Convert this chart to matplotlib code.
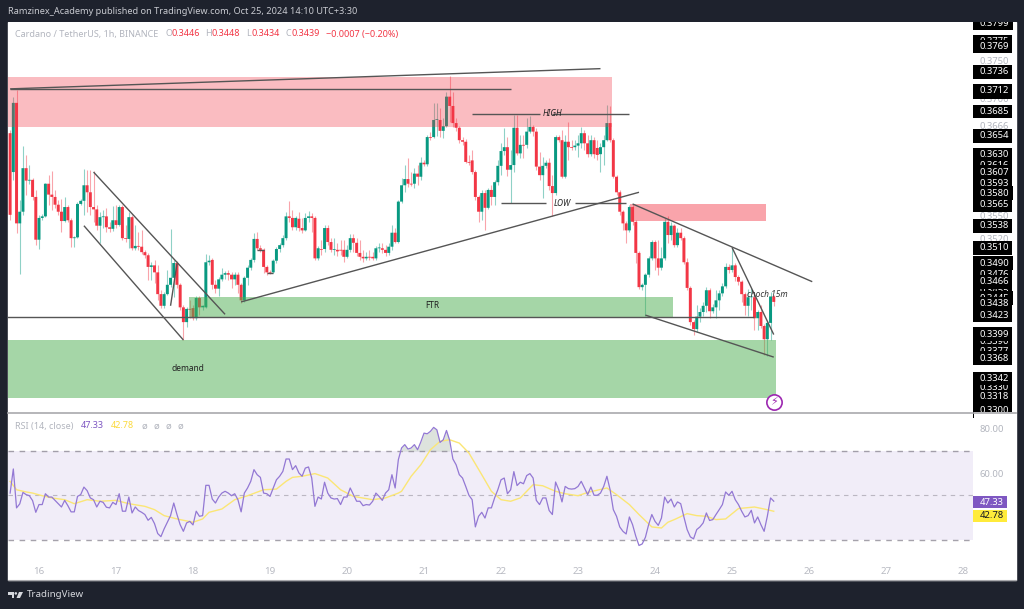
import numpy as np
import matplotlib
matplotlib.use("Agg")
import matplotlib.pyplot as plt
from matplotlib.patches import Rectangle, Polygon, Circle
from matplotlib.path import Path

# candles, in units of 0.0001 USDT
opens = [3656,3606,3695,3540,3555,3611,3595,3596,3574,3519,
         3547,3549,3591,3577,3574,3564,3555,3543,3561,3544,
         3521,3522,3565,3569,3589,3580,3561,3558,3537,3548,
         3549,3535,3533,3544,3538,3561,3521,3520,3548,3508,
         3511,3510,3503,3499,3484,3486,3477,3449,3434,3449,
         3461,3470,3489,3461,3432,3413,3430,3431,3418,3444,
         3432,3432,3490,3493,3461,3456,3468,3474,3476,3474,
         3468,3474,3461,3441,3470,3483,3493,3520,3508,3506,
         3484,3477,3477,3492,3507,3512,3521,3549,3547,3535,
         3546,3534,3531,3547,3549,3547,3495,3507,3507,3534,
         3516,3506,3506,3506,3506,3497,3506,3521,3515,3502,
         3497,3495,3497,3497,3495,3508,3508,3506,3502,3510,
         3528,3516,3568,3589,3597,3591,3591,3604,3600,3618,
         3616,3651,3651,3673,3673,3659,3665,3703,3691,3669,
         3663,3647,3645,3619,3621,3606,3574,3555,3579,3560,
         3583,3574,3593,3614,3633,3638,3609,3615,3663,3630,
         3641,3641,3658,3664,3658,3613,3602,3614,3618,3588,
         3579,3651,3647,3600,3645,3638,3638,3640,3643,3656,
         3643,3629,3647,3637,3629,3638,3647,3669,3647,3600,
         3580,3555,3540,3531,3561,3542,3502,3458,3461,3474,
         3495,3516,3495,3483,3495,3542,3525,3537,3512,3528,
         3521,3490,3457,3413,3404,3420,3426,3434,3454,3427,
         3432,3441,3450,3459,3484,3480,3486,3471,3465,3449,
         3434,3445,3445,3418,3426,3408,3391,3412,3446]
closes = [3551,3695,3540,3555,3611,3595,3596,3574,3519,3547,
          3549,3591,3577,3574,3564,3555,3543,3561,3544,3521,
          3522,3565,3569,3589,3580,3561,3558,3537,3548,3549,
          3535,3533,3544,3538,3561,3521,3520,3548,3508,3511,
          3510,3503,3499,3484,3486,3477,3449,3434,3449,3461,
          3470,3489,3461,3432,3413,3430,3429,3418,3444,3432,
          3434,3490,3492,3461,3456,3468,3474,3476,3474,3468,
          3474,3461,3441,3470,3483,3493,3520,3508,3506,3484,
          3477,3476,3492,3507,3512,3521,3549,3547,3535,3547,
          3534,3531,3547,3549,3547,3495,3508,3506,3534,3516,
          3506,3507,3504,3505,3497,3506,3521,3515,3502,3497,
          3495,3497,3496,3495,3508,3509,3506,3502,3510,3528,
          3516,3568,3589,3597,3591,3590,3604,3600,3618,3616,
          3651,3650,3673,3674,3659,3665,3703,3691,3669,3663,
          3647,3645,3619,3618,3606,3574,3555,3579,3560,3583,
          3574,3593,3614,3633,3638,3609,3615,3663,3630,3641,
          3640,3658,3664,3658,3613,3602,3614,3618,3588,3579,
          3651,3647,3600,3645,3638,3637,3640,3643,3656,3643,
          3629,3647,3629,3628,3638,3647,3669,3647,3600,3580,
          3555,3540,3531,3561,3542,3502,3458,3461,3474,3495,
          3516,3495,3483,3495,3542,3525,3537,3512,3528,3521,
          3490,3457,3413,3404,3420,3426,3434,3454,3427,3432,
          3441,3450,3459,3484,3480,3486,3471,3465,3449,3434,
          3445,3446,3418,3426,3408,3391,3412,3446,3439]
highs = [3660,3703,3712,3570,3640,3628,3615,3598,3583,3551,
         3552,3592,3602,3607,3583,3570,3571,3574,3564,3547,
         3524,3568,3571,3610,3609,3609,3607,3564,3555,3557,
         3560,3542,3562,3564,3564,3564,3538,3555,3551,3538,
         3529,3531,3506,3502,3490,3493,3486,3454,3452,3480,
         3533,3493,3492,3463,3435,3432,3441,3435,3447,3447,
         3435,3501,3499,3495,3467,3471,3483,3479,3480,3477,
         3477,3477,3463,3472,3486,3495,3528,3529,3512,3508,
         3486,3480,3494,3510,3515,3525,3555,3569,3557,3549,
         3555,3547,3553,3556,3553,3549,3511,3519,3538,3538,
         3521,3521,3515,3519,3519,3512,3526,3526,3521,3519,
         3506,3503,3506,3503,3511,3515,3515,3512,3515,3538,
         3534,3570,3598,3615,3624,3606,3611,3615,3625,3621,
         3654,3657,3695,3695,3688,3675,3709,3730,3709,3675,
         3665,3651,3649,3628,3634,3609,3577,3583,3583,3585,
         3589,3596,3621,3643,3663,3651,3634,3679,3679,3654,
         3654,3675,3678,3667,3663,3632,3625,3621,3624,3602,
         3654,3654,3660,3654,3670,3647,3647,3654,3664,3660,
         3654,3654,3651,3647,3643,3654,3692,3691,3650,3602,
         3583,3557,3543,3564,3565,3544,3504,3463,3476,3498,
         3519,3519,3519,3510,3547,3549,3542,3539,3534,3534,
         3524,3495,3459,3416,3435,3431,3439,3458,3457,3436,
         3454,3454,3463,3489,3488,3508,3489,3474,3467,3452,
         3456,3457,3448,3429,3435,3411,3414,3452,3448]
lows = [3544,3596,3528,3475,3551,3577,3591,3570,3512,3507,
        3544,3548,3564,3557,3560,3551,3529,3542,3542,3510,
        3510,3521,3564,3551,3555,3551,3542,3531,3515,3534,
        3529,3529,3530,3534,3537,3519,3516,3508,3506,3506,
        3506,3501,3495,3467,3467,3463,3441,3431,3431,3448,
        3458,3445,3457,3429,3390,3407,3418,3416,3416,3422,
        3429,3431,3486,3456,3450,3447,3466,3468,3467,3457,
        3461,3450,3438,3439,3461,3480,3490,3506,3503,3476,
        3474,3475,3476,3489,3503,3510,3519,3542,3531,3531,
        3530,3528,3530,3542,3529,3493,3493,3499,3503,3512,
        3503,3499,3498,3499,3490,3495,3503,3503,3498,3493,
        3490,3493,3493,3493,3493,3503,3502,3498,3499,3506,
        3515,3515,3566,3580,3587,3588,3585,3589,3596,3614,
        3614,3647,3650,3652,3651,3650,3664,3670,3664,3659,
        3643,3641,3618,3615,3604,3570,3542,3544,3531,3558,
        3564,3564,3589,3602,3628,3601,3566,3606,3628,3624,
        3624,3637,3656,3652,3609,3596,3573,3611,3583,3549,
        3577,3645,3598,3598,3621,3634,3634,3625,3637,3634,
        3625,3627,3624,3621,3606,3615,3646,3645,3598,3577,
        3551,3531,3515,3529,3538,3489,3456,3454,3421,3471,
        3493,3480,3474,3480,3493,3515,3519,3510,3510,3519,
        3488,3454,3409,3396,3400,3413,3421,3426,3418,3425,
        3418,3429,3447,3457,3476,3477,3466,3461,3439,3422,
        3421,3429,3403,3403,3406,3371,3369,3390,3434]

rsi = [51.0,61.9,44.3,46.1,51.3,50.3,49.8,47.6,42.3,45.8,
       45.8,50.7,49.2,49.2,47.7,46.2,44.7,47.7,45.3,42.5,
       42.5,49.5,50.3,53.7,52.1,48.8,48.0,44.7,47.3,46.8,
       44.6,44.3,46.8,45.8,50.7,42.8,42.8,49.2,42.0,44.7,
       43.1,42.3,41.3,38.7,40.0,37.2,32.7,31.3,34.8,37.8,
       40.8,46.5,41.3,36.7,33.7,37.5,38.2,36.6,42.8,40.5,
       40.8,54.5,54.5,48.3,46.5,49.2,51.0,51.8,51.0,49.8,
       50.7,48.0,42.5,51.0,53.3,56.3,61.6,59.3,58.1,51.0,
       50.7,49.5,53.3,57.0,58.6,60.8,66.4,66.4,61.6,63.4,
       60.1,58.6,62.3,62.8,57.8,45.0,49.2,48.3,55.9,51.0,
       48.8,48.3,48.5,45.8,49.2,49.2,53.3,50.3,47.3,47.3,
       45.3,45.8,45.6,47.3,51.0,49.5,47.7,51.0,52.5,59.3,
       53.3,66.1,71.4,72.9,70.9,71.4,72.9,70.6,74.1,78.1,
       77.8,78.9,80.7,79.6,73.9,75.1,79.3,74.8,66.4,63.8,
       59.3,57.8,54.0,50.0,48.0,35.7,40.5,42.3,39.7,44.3,
       44.3,48.8,52.5,57.0,57.8,50.7,52.5,60.7,54.4,55.9,
       55.2,58.9,59.8,57.8,47.7,45.8,48.8,48.8,43.1,41.3,
       56.0,52.5,47.0,54.0,53.0,52.8,53.0,54.0,56.3,53.3,
       50.3,53.7,50.0,50.0,51.0,54.0,58.6,52.5,43.5,40.5,
       35.7,33.7,32.5,40.2,36.7,31.5,27.3,28.0,31.0,36.7,
       41.3,38.2,36.4,39.7,49.2,46.5,48.3,44.7,47.0,46.2,
       40.2,34.5,31.2,30.3,34.5,35.7,37.5,42.0,38.6,39.0,
       41.3,43.5,45.8,51.5,50.0,51.8,48.0,45.8,42.8,40.2,
       40.8,43.2,37.5,40.2,36.7,33.7,40.5,48.8,47.33]

# rsi moving average, read at these candles
ma_candles = [0,2,5,7,10,13,17,20,24,28,33,37,42,45,48,52,57,60,62,66,70,74,79,83,86,88,91,95,99,103,
              107,113,117,121,122,125,128,131,134,137,140,143,147,150,153,156,159,163,166,170,173,177,180,186,189,193,196,
              200,203,205,207,211,214,217,220,223,227,232,235,238]
ma_values = [56.3,52.5,51.5,51.0,49.8,48.8,48.0,46.2,48.0,47.3,47.7,46.2,45.0,43.5,40.8,39.3,37.8,39.3,42.3,43.8,48.0,49.8,52.5,52.8,56.3,58.1,58.6,59.8,57.8,52.5,
             49.5,48.0,48.8,51.0,51.8,58.6,63.8,70.6,74.4,75.1,73.6,69.1,59.3,51.8,48.0,47.3,48.8,54.8,54.3,51.8,50.7,49.8,51.3,53.3,50.3,45.8,41.3,
             35.7,35.2,37.8,39.0,41.7,40.8,40.5,39.0,39.3,44.0,44.7,43.8,42.78]

day_labels = ["16","17","18","19","20","21","22","23","24","25","26","27","28"]
day_hours = [0,24,48,72,96,120,144,168,192,216,240,264,288]

price_black = [0.3775,0.3710,0.3616,0.3490,0.3476,0.3455,0.3445,0.3390,0.3377,0.3330,
               0.3799,0.3769,0.3736,0.3712,0.3685,0.3654,0.3630,0.3607,0.3593,0.3580,0.3565,
               0.3538,0.3510,0.3466,0.3438,0.3423,0.3399,0.3368,0.3342,0.3318,0.3300]
price_grey = [0.3750,0.3700,0.3666,0.3550,0.3520]

# drawings as (hour, price, hour, price)
trend_lines = [(-9.0,0.3713,175.0,0.3739),
               (-9.0,0.3713,147.2,0.3713),
               (135.0,0.3681,156.0,0.3681),(160.0,0.3681,184.0,0.3681),
               (144.0,0.3566,158.0,0.3566),(167.0,0.3566,183.0,0.3566),
               (63.0,0.3439,187.0,0.3580),
               (17.0,0.3606,58.0,0.3423),
               (14.0,0.3537,45.0,0.3390),
               (41.0,0.3434,43.0,0.3488),
               (68.0,0.3506,70.0,0.3506),(71.0,0.3476,73.0,0.3476),
               (-10.0,0.3420,223.0,0.3420),
               (185.0,0.3565,241.0,0.3465),
               (216.0,0.3509,229.0,0.3397),
               (189.0,0.3422,229.0,0.3368)]

fig = plt.figure(figsize=(10.24, 6.09), dpi=100, facecolor="#1e222d")
plt.rcParams["font.family"] = ["Noto Sans", "DejaVu Sans"]
grey = "#b2b5be"
W, H = 1024.0, 609.0


def pane(x0, y0, x1, y1, z):
    return fig.add_axes([x0 / W, 1 - y1 / H, (x1 - x0) / W, (y1 - y0) / H], zorder=z)


# wider than the text sideways, tight up and down
def label_box(ypad):
    def box(x0, y0, w, h, mutation_size=None):
        left, right = x0 - 6.5, x0 + w + 3.5
        low, up = y0 - ypad, y0 + h + ypad
        return Path([(left, low), (right, low), (right, up), (left, up), (left, low)], closed=True)
    return box


back = fig.add_axes([0, 0, 1, 1], zorder=0)
back.set_xlim(0, W)
back.set_ylim(H, 0)
back.axis("off")
back.add_patch(Rectangle((8, 22), 1008, 558, color="white"))

ax = pane(8, 22, 973, 412, 1)
ax.patch.set_alpha(0)
for s in ax.spines.values():
    s.set_visible(False)
ax.set_xlim(-9.66, 291.1)
ax.set_ylim(0.32974, 0.3799)

o = np.array(opens) / 1e4
c = np.array(closes) / 1e4
h = np.array(highs) / 1e4
l = np.array(lows) / 1e4
hours = np.arange(len(o)) - 9
colors = np.where(c >= o, "#089981", "#f23645")
ax.vlines(hours, l, h, colors=colors, lw=0.8, alpha=0.45, zorder=2)
ax.bar(hours, np.maximum(np.abs(c - o), 0.00006), bottom=np.minimum(o, c), width=0.92, color=colors,
       zorder=3, snap=False, lw=0)

# zones sit over the candles, see-through
ax.add_patch(Rectangle((-9.66, 0.3664), 188.3, 0.0064, color="#f23645", alpha=0.33, lw=0, zorder=4))
ax.add_patch(Rectangle((184.2, 0.3543), 42.4, 0.0022, color="#f23645", alpha=0.45, lw=0, zorder=4))
ax.add_patch(Rectangle((46.8, 0.3418), 150.8, 0.0027, color="#4caf50", alpha=0.5, lw=0, zorder=4))
ax.add_patch(Rectangle((-9.66, 0.3315), 239.4, 0.0075, color="#4caf50", alpha=0.5, lw=0, zorder=4))

for x0, y0, x1, y1 in trend_lines:
    ax.plot([x0, x1], [y0, y1], color="#555555", lw=1.0, zorder=5, solid_capstyle="butt")

ax.text(160, 0.3681, "HIGH", style="italic", fontsize=6, color="#222222", ha="center", va="center", zorder=6)
ax.text(163, 0.3566, "LOW", style="italic", fontsize=6, color="#222222", ha="center", va="center", zorder=6)
ax.text(122.5, 0.3434, "FTR", fontsize=6, color="#222222", ha="center", va="center", zorder=6)
ax.text(46.5, 0.3353, "demand", fontsize=6, color="#222222", ha="center", va="center", zorder=6)
ax.text(227, 0.3449, "choch 15m", style="italic", fontsize=6, color="#333333", ha="center", va="center", zorder=6)

ax.plot([229], [0.3310], marker="o", ms=11, mfc="white", mec="#9c27b0", mew=1.2, zorder=6)
ax.text(229, 0.3310, "\u26a1", family="DejaVu Sans", fontsize=8, color="#9c27b0", ha="center", va="center", zorder=7)

ax.set_xticks([])
ax.yaxis.tick_right()
ax.set_yticks(price_grey + price_black)
ax.set_yticklabels(["%.4f" % p for p in price_grey + price_black], fontsize=6.8)
ax.tick_params(axis="y", length=0, pad=4.6)
for i, lbl in enumerate(ax.get_yticklabels()):
    if i < len(price_grey):
        lbl.set_color(grey)
    else:
        lbl.set_color("white")
        lbl.set_bbox(dict(boxstyle=label_box(2.3), fc="black", ec="none"))

# rsi pane
ar = pane(8, 413, 973, 555, 2)
ar.patch.set_alpha(0)
for s in ar.spines.values():
    s.set_visible(False)
ar.set_xlim(-9.66, 291.1)
ar.set_ylim(23.0, 87.2)
rsi_arr = np.array(rsi)
ar.axhspan(30, 70, color="#7e57c2", alpha=0.1, lw=0)
for lev, lw_ in [(70, 1.0), (50, 0.8), (30, 1.0)]:
    ar.axhline(lev, color="#8f8b96", lw=lw_, dashes=(4, 4), alpha=0.8 if lev != 50 else 0.55)
ar.fill_between(hours, 70, rsi_arr, where=rsi_arr > 70, color="#8fa38f", alpha=0.3, lw=0)
ar.plot(np.array(ma_candles) - 9, ma_values, color="#fbe675", lw=1.0)
ar.plot(hours, rsi_arr, color="#9378d4", lw=0.9)

ar.set_xticks(day_hours)
ar.set_xticklabels(day_labels, fontsize=7, color="#b8bac2")
ar.tick_params(axis="x", length=0, pad=9)
ar.yaxis.tick_right()
# yellow label sits a little under its value, as the two boxes would collide
rsi_ticks = [80, 60, 47.33, 41.1]
ar.set_yticks(rsi_ticks)
ar.set_yticklabels(["80.00", "60.00", "47.33", "42.78"], fontsize=6.8)
ar.tick_params(axis="y", length=0, pad=4.6)
labs = ar.get_yticklabels()
labs[0].set_color(grey)
labs[1].set_color(grey)
labs[2].set_color("white")
labs[2].set_bbox(dict(boxstyle=label_box(1.2), fc="#7e57c2", ec="none"))
labs[3].set_color("#131722")
labs[3].set_bbox(dict(boxstyle=label_box(1.2), fc="#ffeb3b", ec="none"))

# things over everything: title strip, cut at pane edge, legends, logo
top = fig.add_axes([0, 0, 1, 1], zorder=5)
top.set_xlim(0, W)
top.set_ylim(H, 0)
top.axis("off")
top.add_patch(Rectangle((0, 0), W, 21.5, color="#1e222d", lw=0))
top.add_patch(Rectangle((973.5, 412), 42.5, 9, color="white", lw=0))
top.plot([8, 1016], [412.5, 412.5], color="#a9a9ad", lw=1.2)
top.plot([8, 1016], [580, 580], color="#a9a9ad", lw=0.8)
top.text(8, 12, "Ramzinex_Academy published on TradingView.com, Oct 25, 2024 14:10 UTC+3:30",
         color="#c9cbd1", fontsize=6.6, va="center")
top.text(15, 34, "Cardano / TetherUS, 1h, BINANCE", color=grey, fontsize=6.5, va="center")
red = "#f23645"
for x, s, col in [(165, "O", grey), (171, "0.3446", red), (205, "H", grey), (212, "0.3448", red),
                  (246, "L", grey), (251, "0.3434", red), (286, "C", grey), (291, "0.3439", red),
                  (326, "\u22120.0007 (\u22120.20%)", red)]:
    top.text(x, 34, s, color=col, fontsize=6.5, va="center")
top.text(15, 426, "RSI (14, close)", color=grey, fontsize=6.5, va="center")
top.text(81, 426, "47.33", color="#7e57c2", fontsize=6.5, va="center")
top.text(111, 426, "42.78", color="#fbd93b", fontsize=6.5, va="center")
for x in [141, 153, 166, 178]:
    top.text(x, 426, "\u00f8", color=grey, fontsize=6.8, va="center")

top.add_patch(Polygon([(8, 592), (14, 592), (14, 598), (11.5, 598), (11.5, 594.5), (8, 594.5)], color="#d6d8dd", lw=0))
top.add_patch(Circle((15.8, 593.4), 1.3, color="#d6d8dd", lw=0))
top.add_patch(Polygon([(19, 592), (23, 592), (20, 598), (16.5, 598)], color="#d6d8dd", lw=0))
top.text(27, 594.5, "TradingView", color="#d6d8dd", fontsize=7, va="center")

fig.savefig("out.png", dpi=100, facecolor=fig.get_facecolor())
